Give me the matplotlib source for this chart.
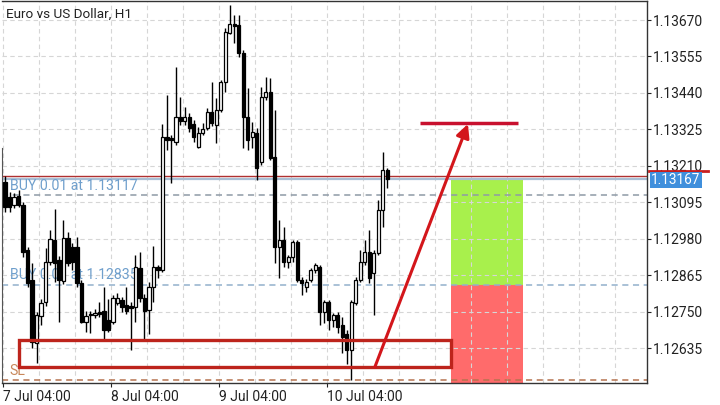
import matplotlib
matplotlib.use("Agg")
import matplotlib.pyplot as plt
from matplotlib.patches import Rectangle, FancyArrowPatch
import matplotlib.transforms as mtransforms

plt.rcParams['font.family'] = ['Roboto', 'DejaVu Sans']

# EURUSD H1 candles, 7 Jul 04:00 onwards
opens = [1.13159, 1.13112, 1.13086, 1.13115, 1.13086, 1.12944, 1.12850, 1.12651, 1.12736, 1.12780,
         1.12907, 1.12976, 1.12913, 1.12847, 1.12982, 1.12954, 1.12954, 1.12840, 1.12717, 1.12739,
         1.12739, 1.12749, 1.12752, 1.12724, 1.12717, 1.12777, 1.12787, 1.12771, 1.12768, 1.12765,
         1.12888, 1.12793, 1.12755, 1.12828, 1.12891, 1.12881, 1.13301, 1.13298, 1.13285, 1.13364,
         1.13351, 1.13364, 1.13342, 1.13269, 1.13314, 1.13329, 1.13380, 1.13339, 1.13386, 1.13474,
         1.13629, 1.13657, 1.13654, 1.13566, 1.13364, 1.13301, 1.13314, 1.13222, 1.13427, 1.13443,
         1.13238, 1.12954, 1.12976, 1.12907, 1.12922, 1.12970, 1.12850, 1.12828, 1.12850, 1.12881,
         1.12891, 1.12749, 1.12780, 1.12724, 1.12739, 1.12708, 1.12679, 1.12629, 1.12777, 1.12850,
         1.12907, 1.12938, 1.12872, 1.12935, 1.13071, 1.13197]
highs = [1.13178, 1.13127, 1.13124, 1.13134, 1.13096, 1.12954, 1.12903, 1.12749, 1.12790, 1.12951,
         1.13007, 1.13074, 1.12925, 1.13039, 1.13001, 1.12966, 1.12985, 1.12850, 1.12752, 1.12752,
         1.12758, 1.12780, 1.12828, 1.12790, 1.12802, 1.12809, 1.12796, 1.12828, 1.12780, 1.12929,
         1.12938, 1.12806, 1.12843, 1.12957, 1.12897, 1.13342, 1.13433, 1.13307, 1.13522, 1.13427,
         1.13396, 1.13377, 1.13355, 1.13332, 1.13345, 1.13392, 1.13474, 1.13424, 1.13481, 1.13645,
         1.13717, 1.13686, 1.13686, 1.13575, 1.13455, 1.13348, 1.13329, 1.13459, 1.13490, 1.13487,
         1.13386, 1.13039, 1.13017, 1.12929, 1.12976, 1.12976, 1.12859, 1.12853, 1.12888, 1.12903,
         1.12897, 1.12787, 1.12787, 1.12746, 1.12749, 1.12733, 1.12692, 1.12787, 1.12859, 1.12944,
         1.12976, 1.13007, 1.12944, 1.13102, 1.13254, 1.13203]
lows = [1.13064, 1.13064, 1.13077, 1.13080, 1.12922, 1.12828, 1.12635, 1.12588, 1.12708, 1.12768,
        1.12897, 1.12843, 1.12717, 1.12837, 1.12894, 1.12881, 1.12828, 1.12714, 1.12686, 1.12683,
        1.12730, 1.12733, 1.12657, 1.12686, 1.12711, 1.12771, 1.12749, 1.12742, 1.12629, 1.12717,
        1.12780, 1.12660, 1.12679, 1.12780, 1.12856, 1.12875, 1.13260, 1.13156, 1.13276, 1.13339,
        1.13339, 1.13317, 1.13285, 1.13266, 1.13307, 1.13323, 1.13336, 1.13282, 1.13380, 1.13443,
        1.13626, 1.13597, 1.13553, 1.13266, 1.13260, 1.13266, 1.13165, 1.13213, 1.13418, 1.13228,
        1.12903, 1.12856, 1.12891, 1.12888, 1.12907, 1.12843, 1.12802, 1.12812, 1.12843, 1.12872,
        1.12708, 1.12714, 1.12692, 1.12701, 1.12683, 1.12619, 1.12585, 1.12534, 1.12771, 1.12843,
        1.12897, 1.12840, 1.12739, 1.12929, 1.13017, 1.13140]
closes = [1.13080, 1.13080, 1.13112, 1.13086, 1.12938, 1.12840, 1.12654, 1.12739, 1.12777, 1.12907,
          1.12979, 1.12903, 1.12850, 1.12982, 1.12903, 1.12907, 1.12840, 1.12717, 1.12736, 1.12742,
          1.12746, 1.12742, 1.12692, 1.12692, 1.12793, 1.12793, 1.12765, 1.12752, 1.12761, 1.12891,
          1.12793, 1.12752, 1.12828, 1.12891, 1.12881, 1.13301, 1.13291, 1.13291, 1.13364, 1.13351,
          1.13364, 1.13329, 1.13301, 1.13314, 1.13326, 1.13380, 1.13345, 1.13386, 1.13474, 1.13632,
          1.13657, 1.13651, 1.13566, 1.13364, 1.13291, 1.13317, 1.13203, 1.13427, 1.13443, 1.13235,
          1.12954, 1.12976, 1.12907, 1.12922, 1.12970, 1.12850, 1.12840, 1.12843, 1.12881, 1.12897,
          1.12749, 1.12780, 1.12724, 1.12739, 1.12701, 1.12670, 1.12629, 1.12780, 1.12850, 1.12907,
          1.12938, 1.12856, 1.12935, 1.13071, 1.13197, 1.13167]

price_ticks = [1.12635, 1.12750, 1.12865, 1.12980, 1.13095, 1.13210, 1.13325, 1.13440, 1.13555, 1.13670]
time_ticks = [0, 24, 48, 72]
time_labels = ['7 Jul 04:00', '8 Jul 04:00', '9 Jul 04:00', '10 Jul 04:00']

bid = 1.13167
ask = 1.13178
buy_levels = [1.13117, 1.12835]
buy_labels = ['BUY 0.01 at 1.13117', 'BUY 0.01 at 1.12835']
sl_level = 1.12534

# drawn objects (bar index / price)
zone_bars = [3.1, 99.1]
zone_prices = [1.12575, 1.12660]
tp_bars = [99.1, 115.1]
target_bars = [92.2, 114.0]
target_price = 1.13345
arrow_start = (82.2, 1.12575)
arrow_end = (102.9, 1.13342)
left_edge_top = 1.13266

y_min, y_max = 1.12525, 1.13730
x_min, x_max = -0.67, 142.7

fig = plt.figure(figsize=(7.2, 4.05), dpi=100)
ax = fig.add_axes([2 / 720, 22 / 405, 645 / 720, 382 / 405])
ax.set_xlim(x_min, x_max)
ax.set_ylim(y_min, y_max)

# grid
grid_kw = dict(color='#d6d6d6', lw=0.8, ls=(0, (4, 3)), zorder=0.5)
for p in price_ticks:
    ax.axhline(p, **grid_kw)
for k in range(18):
    ax.axvline(-0.5 + 8 * k, **grid_kw)

# take profit / stop loss boxes
ax.add_patch(Rectangle((tp_bars[0], buy_levels[1]), tp_bars[1] - tp_bars[0], bid - buy_levels[1],
                       facecolor='#a8f04c', edgecolor='none', zorder=0.3))
ax.add_patch(Rectangle((tp_bars[0], y_min), tp_bars[1] - tp_bars[0], buy_levels[1] - y_min,
                       facecolor='#ff6b6b', edgecolor='none', zorder=0.3))

# order lines and labels
ax.axhline(buy_levels[0], color='#8e9aa6', lw=1.1, ls=(0, (4, 3)), zorder=1)
ax.axhline(buy_levels[1], color='#92b0cc', lw=1.1, ls=(0, (4, 3)), zorder=1)
ax.axhline(sl_level, color='#b5734f', lw=1.1, ls=(0, (4, 3)), zorder=1)
ax.axhline(bid, color='#a9bfd4', lw=1.6, zorder=1)
ax.axhline(ask, color='#b03030', lw=1.0, zorder=1)

off = mtransforms.offset_copy(ax.transData, fig=fig, x=0, y=2.5, units='dots')
for lvl, txt in zip(buy_levels, buy_labels):
    ax.text(1.2, lvl, txt, transform=off, color='#6f9fcc', fontsize=10.2, va='bottom', ha='left', zorder=1)
ax.text(0.9, sl_level, 'SL', transform=off, color='#c8875a', fontsize=10.2, va='bottom', ha='left', zorder=1)

# candles
width = 0.68
for i, (o, h, l, c) in enumerate(zip(opens, highs, lows, closes)):
    ax.vlines(i, l, h, color='black', lw=1, zorder=2)
    bottom = min(o, c)
    height = max(abs(c - o), 0.00002)
    face = 'white' if c >= o else 'black'
    ax.add_patch(Rectangle((i - width / 2, bottom), width, height,
                           facecolor=face, edgecolor='black', lw=0.9, zorder=3))

# demand zone, target and arrow
ax.add_patch(Rectangle((zone_bars[0], zone_prices[0]), zone_bars[1] - zone_bars[0],
                       zone_prices[1] - zone_prices[0], facecolor='none',
                       edgecolor='#bd241c', lw=2.4, zorder=4))
ax.plot(target_bars, [target_price, target_price], color='#c8102e', lw=2.5, zorder=4,
        solid_capstyle='butt')
ax.add_patch(FancyArrowPatch(arrow_start, arrow_end, arrowstyle='-|>', mutation_scale=20,
                             color='#d3161b', lw=2.2, zorder=5, shrinkA=0, shrinkB=0))

# title
ax.text(0.0062, 0.982, 'Euro vs US Dollar, H1', transform=ax.transAxes, fontsize=9.7,
        color='#222222', va='top', ha='left')

# axes styling
for side in ['top', 'right', 'bottom']:
    ax.spines[side].set_color('#333333')
    ax.spines[side].set_linewidth(1.0)
ax.spines['left'].set_color('#555555')
ax.spines['left'].set_bounds(y_min, left_edge_top)

ax.yaxis.tick_right()
ax.set_yticks(price_ticks)
ax.set_yticklabels([f'{p:.5f}' for p in price_ticks])
ax.tick_params(axis='y', length=3, pad=1.5, labelsize=10, colors='#222222')
ax.set_xticks([t - 0.5 for t in time_ticks])
ax.set_xticklabels(time_labels)
for lab in ax.get_xticklabels():
    lab.set_horizontalalignment('left')
ax.tick_params(axis='x', length=3, pad=2, labelsize=10, colors='#222222')

# current price marker on the scale
blend = mtransforms.blended_transform_factory(ax.transAxes, ax.transData)
ax.plot([1.003, 1.095], [bid + 0.00026, bid + 0.00026], transform=blend, color='#c81e1e',
        lw=2, clip_on=False, zorder=6)
ax.text(1.0065, bid - 0.00002, f'{bid:.5f}', transform=blend, color='white', fontsize=9.8,
        va='center', ha='left', zorder=7,
        bbox=dict(boxstyle='square,pad=0.08', facecolor='#3f8fdc', edgecolor='none'))

fig.savefig('out.png', dpi=100)
